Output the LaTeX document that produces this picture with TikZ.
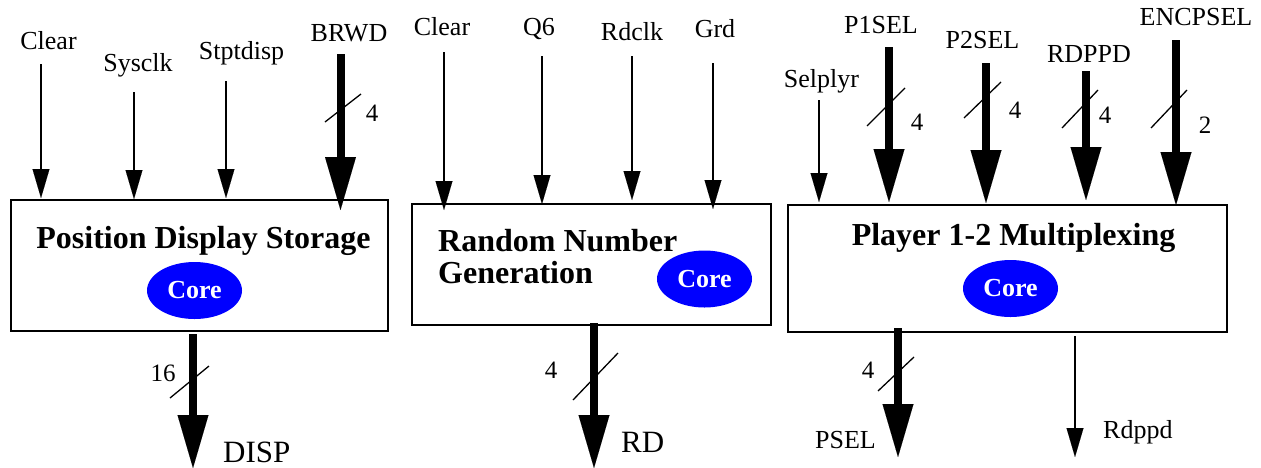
\documentclass[tikz,border=0pt]{standalone}
\usepackage{fontspec}
\setmainfont{LiberationSerif}[Extension=.ttf, UprightFont=*-Regular, BoldFont=*-Bold, ItalicFont=*-Italic, BoldItalicFont=*-BoldItalic]
\usetikzlibrary{arrows.meta,shapes.geometric}
\tikzset{
  lbl/.style={anchor=base, inner sep=0pt, font=\fontsize{26}{30}\selectfont},
  outlbl/.style={anchor=base west, inner sep=0pt, font=\fontsize{31}{34}\selectfont},
  buslbl/.style={inner sep=0pt, font=\fontsize{25}{28}\selectfont},
  blockbox/.style={draw, line width=1.3pt, inner sep=0pt},
  ttl/.style={inner sep=0pt, font=\fontsize{32}{33}\selectfont\bfseries},
  core/.style={ellipse, fill=blue, text=white, inner sep=0pt, minimum width=95pt, minimum height=57pt, font=\fontsize{26}{28}\selectfont\bfseries},
  thinarr/.style={line width=1.3pt, -{Triangle[width=17pt,length=29pt,line width=0.01pt]}},
  busarr/.style={line width=8pt, -{Triangle[width=31pt,length=53pt,line width=0.01pt]}},
  slash/.style={line width=1.3pt},
}
\begin{document}
\begin{tikzpicture}[x=1pt,y=-1pt]
\useasboundingbox (0,0) rectangle (1261,467);
% ---------- Block 1 ----------
\node[blockbox, minimum width=377pt, minimum height=131pt] (b1) at (199.5,265.5) {};
\node[ttl, anchor=base] (t1) at (203.5,248) {Position Display Storage};
\node[core] (c1) at (194.5,290.5) {Core};
\node[lbl] (l1a) at (48.5,49) {Clear};
\node[lbl] (l1b) at (138,71) {Sysclk};
\node[lbl] (l1c) at (241.5,59) {Stptdisp};
\node[lbl] (l1d) at (349,41) {BRWD};
\coordinate (s1a) at (41,64);  \coordinate (e1a) at (41,198);
\coordinate (s1b) at (134,92); \coordinate (e1b) at (134,199);
\coordinate (s1c) at (226,81); \coordinate (e1c) at (226,198);
\coordinate (s1d) at (340.5,54); \coordinate (e1d) at (340.5,210);
\draw[thinarr] (s1a) -- (e1a);
\draw[thinarr] (s1b) -- (e1b);
\draw[thinarr] (s1c) -- (e1c);
\draw[busarr] (s1d) -- (e1d);
\draw[slash] (325,122) -- (361,94);
\node[buslbl] (n1d) at (372,113) {4};
% output
\coordinate (s1o) at (193,334); \coordinate (e1o) at (193,468);
\draw[busarr] (s1o) -- (e1o);
\draw[slash] (170,398) -- (209,366);
\node[buslbl] (n1o) at (163,373) {16};
\node[outlbl] (o1) at (223,462) {DISP};
% ---------- Block 2 ----------
\node[blockbox, minimum width=359pt, minimum height=121pt] (b2) at (591.5,264.5) {};
\node[ttl, anchor=base west] (t2a) at (438,251) {Random Number};
\node[ttl, anchor=base west] (t2b) at (438,283) {Generation};
\node[core] (c2) at (704.5,279) {Core};
\node[lbl] (l2a) at (442,35) {Clear};
\node[lbl] (l2b) at (539,35) {Q6};
\node[lbl] (l2c) at (632,40) {Rdclk};
\node[lbl] (l2d) at (715,37) {Grd};
\coordinate (s2a) at (444,52); \coordinate (e2a) at (444,210);
\coordinate (s2b) at (542,56); \coordinate (e2b) at (542,204);
\coordinate (s2c) at (632,56); \coordinate (e2c) at (632,200);
\coordinate (s2d) at (713,63); \coordinate (e2d) at (713,209);
\draw[thinarr] (s2a) -- (e2a);
\draw[thinarr] (s2b) -- (e2b);
\draw[thinarr] (s2c) -- (e2c);
\draw[thinarr] (s2d) -- (e2d);
\coordinate (s2o) at (594,323); \coordinate (e2o) at (594,468);
\draw[busarr] (s2o) -- (e2o);
\draw[slash] (573,400) -- (618,353);
\node[buslbl] (n2o) at (551,370) {4};
\node[outlbl] (o2) at (621,452) {RD};
% ---------- Block 3 ----------
\node[blockbox, minimum width=439pt, minimum height=127pt] (b3) at (1007.5,268.5) {};
\node[ttl, anchor=base] (t3) at (1013.5,245) {Player 1-2 Multiplexing};
\node[core] (c3) at (1010.5,288.5) {Core};
\node[lbl] (l3a) at (821.5,87) {Selplyr};
\node[lbl] (l3b) at (881,33) {P1SEL};
\node[lbl] (l3c) at (982.5,48) {P2SEL};
\node[lbl] (l3d) at (1089,62) {RDPPD};
\node[lbl] (l3e) at (1196,25) {ENCPSEL};
\coordinate (s3a) at (819,100);  \coordinate (e3a) at (819,202);
\coordinate (s3b) at (889,47);   \coordinate (e3b) at (889,202);
\coordinate (s3c) at (986,63);   \coordinate (e3c) at (986,203);
\coordinate (s3d) at (1086,71);  \coordinate (e3d) at (1086,200);
\coordinate (s3e) at (1176,40);  \coordinate (e3e) at (1176,205);
\draw[thinarr] (s3a) -- (e3a);
\draw[busarr] (s3b) -- (e3b);
\draw[busarr] (s3c) -- (e3c);
\draw[busarr] (s3d) -- (e3d);
\draw[busarr] (s3e) -- (e3e);
\draw[slash] (867,126) -- (905,88);
\draw[slash] (964,118) -- (1001,82);
\draw[slash] (1062,128) -- (1098,90);
\draw[slash] (1151,128) -- (1187,90);
\node[buslbl] (n3b) at (917,122) {4};
\node[buslbl] (n3c) at (1015,110) {4};
\node[buslbl] (n3d) at (1105,115) {4};
\node[buslbl] (n3e) at (1205,125) {2};
% outputs
\coordinate (s3o) at (898,328);  \coordinate (e3o) at (898,457);
\coordinate (s3p) at (1075,336); \coordinate (e3p) at (1075,457);
\draw[busarr] (s3o) -- (e3o);
\draw[thinarr] (s3p) -- (e3p);
\draw[slash] (878,391) -- (914,357);
\node[buslbl] (n3o) at (868,370) {4};
\node[lbl, anchor=base east] (o3a) at (876,448) {PSEL};
\node[lbl, anchor=base west] (o3b) at (1103,438) {Rdppd};
\end{tikzpicture}
\end{document}
